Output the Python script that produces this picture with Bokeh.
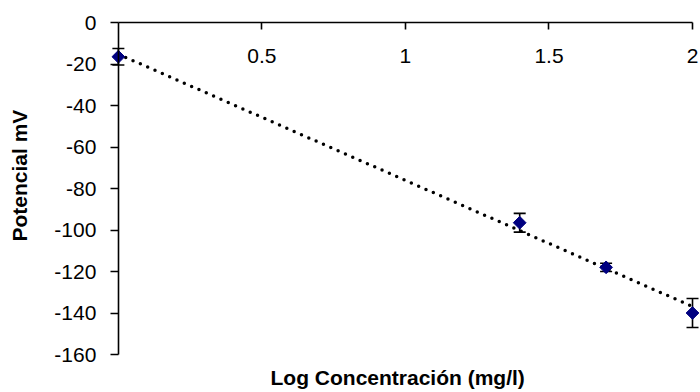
import numpy as np
from bokeh.plotting import figure
from bokeh.models import (ColumnDataSource, Whisker, TeeHead, LinearAxis, FixedTicker,
                          CustomJSTickFormatter, Range1d, Title)
from bokeh.embed import file_html
from bokeh.resources import INLINE

# Calibration data: log of concentration (mg/l) vs electrode potential (mV)
log_conc = [0.0, 1.398, 1.699, 2.0]
potential = [-16.5, -96.5, -118.0, -140.0]
std_dev = [4.0, 4.5, 2.0, 7.0]

x_ticks = [0.5, 1.0, 1.5, 2.0]
y_ticks = list(range(-160, 1, 20))

FONT = "Liberation Sans"
PLAIN = CustomJSTickFormatter(code="return tick.toString();")

W, H = 700, 392
LEFT_PANEL = 34            # room for the vertical title
BOTTOM_PANEL = 29          # room for the horizontal title
TOP_PAD = 4
X0_PX, X2_PX = 117, 692    # where x = 0 and x = 2 fall on the page
Y0_PX, Y160_PX = 22, 354   # where y = 0 and y = -160 fall on the page

px_x = (X2_PX - X0_PX) / 2.0
x_start = -(X0_PX - LEFT_PANEL) / px_x
x_end = 2.0 + (W - X2_PX) / px_x

px_y = (Y160_PX - Y0_PX) / 160.0
y_end = (Y0_PX - TOP_PAD) / px_y
y_start = -160.0 - ((H - BOTTOM_PANEL) - Y160_PX) / px_y

src = ColumnDataSource(dict(
    x=log_conc,
    y=potential,
    upper=[v + e for v, e in zip(potential, std_dev)],
    lower=[v - e for v, e in zip(potential, std_dev)],
))

# the data area is widened so the axes can be pinned at x = 0 / y = 0
# with their labels, and the end markers are drawn whole
p = figure(width=W, height=H, output_backend="svg", toolbar_location=None,
           x_range=Range1d(x_start, x_end), y_range=Range1d(y_start, y_end),
           x_axis_location=None, y_axis_location=None,
           min_border_left=LEFT_PANEL, min_border_right=0, min_border_top=TOP_PAD,
           min_border_bottom=BOTTOM_PANEL)
p.outline_line_color = None
p.xgrid.visible = False
p.ygrid.visible = False
p.background_fill_color = "white"
p.border_fill_color = "white"

# x axis on the y = 0 line
xaxis = LinearAxis(fixed_location=0, bounds=(0, 2), ticker=FixedTicker(ticks=x_ticks),
                   formatter=PLAIN)
xaxis.axis_line_color = "black"
xaxis.axis_line_width = 1.6
xaxis.major_tick_in = 0
xaxis.major_tick_out = 7
xaxis.major_tick_line_width = 1.6
xaxis.minor_tick_line_color = None
xaxis.major_label_standoff = 19
xaxis.major_label_text_font = FONT
xaxis.major_label_text_font_size = "21px"
xaxis.major_label_text_color = "black"
p.add_layout(xaxis, "below")

# y axis on the x = 0 line
yaxis = LinearAxis(fixed_location=0, bounds=(-160, 0), ticker=FixedTicker(ticks=y_ticks),
                   formatter=PLAIN)
yaxis.axis_line_color = "black"
yaxis.axis_line_width = 1.6
yaxis.major_tick_in = 0
yaxis.major_tick_out = 8
yaxis.major_tick_line_width = 1.6
yaxis.minor_tick_line_color = None
yaxis.major_label_standoff = 14
yaxis.major_label_text_font = FONT
yaxis.major_label_text_font_size = "21px"
yaxis.major_label_text_color = "black"
p.add_layout(yaxis, "left")

p.add_layout(Title(text="Potencial mV", align="left", offset=122, text_font=FONT,
                   text_font_size="21px", text_font_style="bold", text_color="black"), "left")

p.add_layout(Title(text="Log  Concentración (mg/l)", align="left", offset=235, standoff=0,
                   text_font=FONT, text_font_size="21px", text_font_style="bold",
                   text_color="black"), "below")

# linear trend line (least squares)
slope, intercept = np.polyfit(log_conc, potential, 1)
fx = [0.0, 2.0]
fy = [intercept + slope * v for v in fx]
p.line(fx, fy, line_color="black", line_width=3.5, line_dash="0 8", line_cap="round")

p.add_layout(Whisker(source=src, base="x", upper="upper", lower="lower",
                     line_color="black", line_width=1.6,
                     upper_head=TeeHead(size=12, line_color="black", line_width=1.6),
                     lower_head=TeeHead(size=12, line_color="black", line_width=1.6)))

p.scatter("x", "y", source=src, marker="square", angle=np.pi / 4, size=9,
          fill_color="#000080", line_color="#000080")

open("out.html", "w").write(file_html(p, INLINE))
